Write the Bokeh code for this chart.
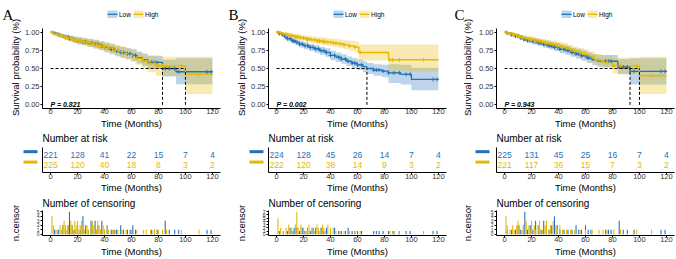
import numpy as np
from bokeh.plotting import figure
from bokeh.layouts import row, column
from bokeh.models import Range1d, FixedTicker, NumeralTickFormatter
from bokeh.core.properties import value
from bokeh.embed import file_html
from bokeh.resources import INLINE

# ---------------- data ----------------
MONTH_TICKS = [0, 20, 40, 60, 80, 100, 120]
SURV_TICKS = [0, 0.25, 0.5, 0.75, 1.0]
GROUP_NAMES = ["Low", "High"]
X_TITLE = "Time (Months)"
KM_Y_TITLE = "Survival probability (%)"
CENS_Y_TITLE = "n.censor"

# Panel A
a_low_t = [0, 2, 5, 8, 11, 14, 17, 20, 24, 28, 32, 36, 40, 44, 48, 52, 56, 60, 64, 68, 72, 83, 93, 120]
a_low_s = [1.0, .985, .965, .945, .93, .91, .895, .88, .865, .85, .835, .815, .79, .765, .74, .72, .705, .68, .65, .62, .585, .50, .455, .455]
a_low_lo = [1.0, .97, .94, .915, .895, .87, .85, .83, .815, .795, .775, .755, .725, .695, .67, .645, .63, .60, .57, .535, .495, .39, .285, .285]
a_low_hi = [1.0, 1.0, .99, .975, .965, .95, .94, .93, .915, .905, .895, .875, .855, .835, .81, .795, .78, .76, .73, .705, .675, .62, .64, .64]
a_high_t = [0, 2, 4, 7, 10, 13, 16, 19, 23, 27, 31, 35, 39, 43, 47, 51, 55, 59, 63, 68, 72, 78, 100, 120]
a_high_s = [1.0, .985, .97, .95, .93, .915, .90, .885, .87, .855, .835, .815, .80, .78, .755, .73, .705, .68, .64, .60, .57, .535, .42, .42]
a_high_lo = [1.0, .97, .95, .925, .90, .88, .86, .84, .82, .80, .775, .755, .735, .71, .685, .655, .625, .595, .55, .505, .45, .40, .15, .15]
a_high_hi = [1.0, 1.0, .99, .975, .96, .95, .94, .93, .92, .905, .89, .875, .865, .85, .83, .805, .785, .765, .73, .695, .68, .66, .66, .66]
a_low_cens_t = [3, 6, 9, 11, 13, 14, 16, 18, 20, 22, 24, 26, 28, 30, 31, 33, 35, 37, 38, 40, 42, 45, 47, 49, 52, 54, 57, 59, 61, 63, 75, 77, 79, 85, 88, 92, 95, 116, 119]
a_low_cens_n = [1, 1, 2, 1, 2, 5, 2, 1, 2, 1, 4, 2, 1, 3, 1, 3, 2, 1, 3, 1, 2, 1, 1, 1, 2, 1, 1, 1, 2, 1, 1, 1, 1, 3, 1, 1, 1, 1, 1]
a_high_cens_t = [1, 2, 4, 5, 7, 8, 9, 10, 11, 12, 13, 15, 16, 17, 18, 19, 20, 21, 22, 23, 24, 25, 27, 28, 30, 31, 32, 34, 35, 36, 37, 39, 40, 42, 43, 46, 48, 50, 53, 56, 60, 64, 69, 71, 74, 77, 80, 83, 86, 97, 110]
a_high_cens_n = [4, 2, 1, 1, 2, 1, 2, 3, 2, 1, 2, 3, 2, 1, 3, 2, 3, 1, 2, 3, 2, 1, 2, 1, 2, 3, 2, 1, 3, 2, 1, 2, 1, 2, 1, 1, 1, 1, 1, 1, 1, 1, 1, 1, 1, 1, 1, 1, 1, 1, 1]
a_low_risk = [221, 128, 41, 22, 15, 7, 4]
a_high_risk = [225, 120, 40, 18, 8, 3, 2]
a_pval = "P = 0.821"

# Panel B
b_low_t = [0, 2, 4, 6, 8, 11, 14, 17, 20, 24, 28, 32, 36, 40, 44, 48, 52, 56, 60, 64, 67, 72, 78, 83, 92, 100, 120]
b_low_s = [1.0, .98, .96, .93, .91, .88, .86, .835, .815, .79, .77, .745, .72, .68, .655, .63, .60, .575, .55, .525, .50, .48, .465, .44, .42, .35, .35]
b_low_lo = [1.0, .96, .935, .90, .875, .845, .82, .79, .765, .74, .715, .69, .66, .615, .59, .565, .535, .505, .48, .45, .425, .40, .38, .30, .28, .20, .20]
b_low_hi = [1.0, 1.0, .985, .96, .945, .92, .90, .88, .86, .84, .82, .80, .78, .745, .72, .695, .665, .645, .62, .60, .575, .56, .55, .56, .55, .51, .51]
b_high_t = [0, 2, 5, 8, 11, 14, 18, 22, 26, 30, 34, 38, 42, 46, 50, 54, 58, 61, 83, 120]
b_high_s = [1.0, .99, .975, .96, .95, .935, .92, .905, .895, .88, .87, .86, .85, .84, .825, .81, .795, .72, .62, .62]
b_high_lo = [1.0, .975, .955, .935, .92, .90, .885, .865, .85, .835, .82, .81, .795, .78, .765, .745, .725, .61, .46, .46]
b_high_hi = [1.0, 1.0, .995, .99, .98, .97, .96, .95, .94, .93, .925, .915, .91, .90, .89, .88, .87, .83, .83, .83]
b_low_cens_t = [2, 5, 8, 10, 12, 13, 15, 17, 19, 21, 23, 25, 27, 29, 31, 33, 35, 37, 40, 43, 46, 48, 51, 53, 56, 58, 60, 63, 72, 74, 76, 79, 83, 87, 91, 96, 99, 116, 119]
b_low_cens_n = [1, 1, 1, 2, 1, 2, 2, 1, 2, 1, 2, 1, 2, 2, 1, 2, 1, 2, 1, 2, 1, 1, 1, 2, 1, 1, 1, 1, 1, 1, 1, 1, 1, 1, 1, 1, 1, 1, 1]
b_high_cens_t = [1, 3, 5, 7, 9, 11, 12, 14, 15, 16, 18, 20, 22, 23, 24, 26, 28, 30, 31, 32, 34, 35, 36, 38, 40, 42, 44, 47, 50, 54, 58, 62, 84, 86, 91, 109]
b_high_cens_n = [5, 2, 1, 2, 3, 2, 1, 3, 7, 2, 3, 2, 1, 2, 3, 2, 1, 3, 2, 1, 3, 2, 1, 3, 2, 2, 1, 1, 1, 1, 1, 1, 1, 1, 1, 1]
b_low_risk = [224, 128, 45, 26, 14, 7, 4]
b_high_risk = [222, 120, 38, 14, 9, 3, 2]
b_pval = "P = 0.002"

# Panel C
c_low_t = [0, 2, 5, 8, 11, 14, 17, 21, 25, 29, 33, 37, 41, 45, 49, 53, 57, 61, 65, 69, 84, 93, 120]
c_low_s = [1.0, .985, .965, .945, .925, .905, .885, .87, .85, .83, .81, .79, .765, .745, .72, .70, .675, .645, .62, .60, .52, .46, .46]
c_low_lo = [1.0, .97, .945, .92, .895, .87, .85, .83, .81, .785, .76, .74, .71, .69, .66, .635, .605, .575, .545, .52, .42, .28, .28]
c_low_hi = [1.0, 1.0, .99, .975, .96, .945, .93, .915, .90, .885, .865, .85, .83, .81, .785, .77, .75, .725, .70, .685, .63, .64, .64]
c_high_t = [0, 2, 4, 7, 10, 13, 16, 19, 23, 27, 31, 35, 39, 43, 47, 51, 55, 59, 63, 67, 72, 80, 100, 120]
c_high_s = [1.0, .99, .975, .96, .94, .925, .91, .895, .88, .86, .845, .83, .81, .79, .765, .74, .715, .69, .655, .62, .59, .535, .40, .40]
c_high_lo = [1.0, .98, .96, .94, .915, .895, .88, .86, .845, .82, .80, .785, .76, .735, .71, .68, .65, .62, .58, .54, .50, .43, .15, .15]
c_high_hi = [1.0, 1.0, .99, .98, .965, .955, .945, .935, .92, .905, .89, .88, .865, .85, .825, .80, .78, .76, .73, .70, .68, .65, .66, .66]
c_low_cens_t = [2, 5, 8, 10, 12, 14, 15, 17, 19, 21, 23, 25, 27, 29, 31, 33, 35, 37, 39, 41, 44, 47, 50, 53, 55, 57, 60, 62, 64, 75, 77, 79, 85, 88, 91, 96, 116, 119]
c_low_cens_n = [1, 1, 1, 2, 1, 2, 5, 1, 2, 1, 3, 2, 1, 3, 2, 1, 2, 4, 2, 1, 1, 1, 1, 2, 1, 1, 2, 1, 1, 1, 1, 1, 3, 1, 1, 1, 1, 1]
c_high_cens_t = [1, 2, 4, 6, 7, 9, 10, 11, 13, 14, 16, 18, 19, 20, 22, 23, 25, 26, 28, 30, 31, 33, 34, 36, 38, 39, 41, 43, 46, 49, 52, 56, 60, 65, 70, 73, 76, 81, 86, 98, 109]
c_high_cens_n = [4, 2, 1, 2, 1, 2, 3, 2, 1, 2, 3, 2, 1, 3, 2, 1, 2, 3, 1, 2, 3, 1, 2, 3, 2, 1, 2, 1, 1, 1, 1, 1, 1, 1, 1, 1, 1, 1, 1, 1, 1]
c_low_risk = [225, 131, 45, 25, 16, 7, 4]
c_high_risk = [221, 117, 36, 15, 7, 3, 2]
c_pval = "P = 0.943"

# ---------------- style ----------------
BLUE = "#2372B9"
YELLOW = "#E7B800"
SANS = "Liberation Sans"
SERIF = "Liberation Serif"
XR = (-6, 126)


def style_axes(p):
    for ax in p.axis:
        ax.axis_line_color = "black"
        ax.axis_line_width = 1
        ax.major_tick_line_color = "black"
        ax.major_tick_in = 0
        ax.major_tick_out = 2
        ax.minor_tick_line_color = None
        ax.major_label_text_font = SANS
        ax.major_label_text_font_size = "7.5px"
        ax.major_label_text_color = "#333333"
        ax.major_label_standoff = -2


def base_fig(W, H, L, R, T, B, yr):
    p = figure(width=W, height=H, x_range=Range1d(*XR), y_range=Range1d(*yr),
               output_backend="svg", toolbar_location=None,
               min_border_left=L, min_border_right=R, min_border_top=T, min_border_bottom=B)
    p.grid.visible = False
    p.outline_line_color = None
    style_axes(p)
    p.xaxis.ticker = FixedTicker(ticks=MONTH_TICKS)
    return p


def converters(W, L, R, T, FH, yr):
    FW = W - L - R
    X = lambda px: XR[0] + (px - L) * (XR[1] - XR[0]) / FW
    Y = lambda py: yr[1] - (py - T) * (yr[1] - yr[0]) / FH
    return X, Y


def add_text(p, x, y, s, size, font=SANS, style="normal", align="left",
             baseline="middle", color="black", angle=0.0):
    p.text(x=[x], y=[y], text=[s], text_font=value(font), text_font_size=value(size),
           text_font_style=value(style), text_align=value(align),
           text_baseline=value(baseline), text_color=color, angle=angle, level="overlay")


def km_fig(W, L, R, letter, groups, pval):
    T, FH, B = 28, 80, 25
    yr = (-0.05, 1.05)
    p = base_fig(W, T + FH + B, L, R, T, B, yr)
    X, Y = converters(W, L, R, T, FH, yr)
    p.yaxis.ticker = FixedTicker(ticks=SURV_TICKS)
    p.yaxis.formatter = NumeralTickFormatter(format="0.00")
    p.yaxis.major_label_standoff = 1

    for g in groups:
        p.varea_step(x=g["t"], y1=g["lo"], y2=g["hi"], step_mode="after",
                     fill_color=g["color"], fill_alpha=0.3)
    for g in groups:
        p.step(x=g["t"], y=g["s"], mode="after", line_color=g["color"], line_width=1.3)
    for g in groups:
        t = np.array(g["t"], dtype=float)
        s = np.array(g["s"], dtype=float)
        ct = np.array(g["ct"], dtype=float)
        cy = s[np.searchsorted(t, ct, side="right") - 1]
        p.scatter(x=ct, y=cy, marker="cross", size=4, line_color=g["color"], line_width=1)

    meds = []
    for g in groups:
        below = [tt for tt, ss in zip(g["t"], g["s"]) if ss <= 0.5]
        if below:
            meds.append(below[0])
    if meds:
        p.segment(x0=[0], y0=[0.5], x1=[max(meds)], y1=[0.5], line_color="black",
                  line_width=1, line_dash="3 2")
        p.segment(x0=meds, y0=[0] * len(meds), x1=meds, y1=[0.5] * len(meds),
                  line_color="black", line_width=1, line_dash="3 2")

    add_text(p, 0, 0, pval, "7px", style="bold italic")
    add_text(p, X(2), Y(14), letter, "15px", font=SERIF, baseline="alphabetic")
    fw = W - L - R
    cx0 = L + fw / 2
    add_text(p, X(cx0), Y(T + FH + 15.3), X_TITLE, "9.5px", align="center")
    add_text(p, X(15), Y(T + FH / 2 - 1), KM_Y_TITLE, "9.5px", align="center",
             angle=np.pi / 2)

    key_off = [-19, 7]
    txt_off = [-12.5, 13.5]
    for g, ko, to in zip(groups, key_off, txt_off):
        kc = cx0 + ko
        p.quad(left=[X(kc - 5)], right=[X(kc + 5)], bottom=[Y(17.5)], top=[Y(10)],
               fill_color=g["color"], fill_alpha=0.3, line_color=None, level="overlay")
        p.segment(x0=[X(kc - 5)], y0=[Y(13.8)], x1=[X(kc + 5)], y1=[Y(13.8)],
                  line_color=g["color"], line_width=1.3, level="overlay")
        p.scatter(x=[X(kc)], y=[Y(13.8)], marker="cross", size=4, line_color=g["color"],
                  line_width=1, level="overlay")
        add_text(p, X(cx0 + to), Y(14), g["name"], "6.5px")
    return p


def risk_fig(W, L, R, groups):
    T, FH, B = 14, 25, 24
    yr = (0.3, 2.7)
    p = base_fig(W, T + FH + B, L, R, T, B, yr)
    X, Y = converters(W, L, R, T, FH, yr)
    p.yaxis.ticker = FixedTicker(ticks=[])
    p.xaxis.major_label_standoff = -1
    rows = [2, 1]
    for g, yv in zip(groups, rows):
        p.text(x=MONTH_TICKS, y=[yv] * len(MONTH_TICKS), text=[str(v) for v in g["risk"]],
               text_color=g["color"], text_align="center", text_baseline="middle",
               text_font=value(SANS), text_font_size=value("8.5px"))
        p.segment(x0=[X(23)], x1=[X(37)], y0=[yv + 0.3], y1=[yv + 0.3],
                  line_color=g["color"], line_width=3, level="overlay")
    add_text(p, XR[0], Y(5.3), "Number at risk", "10px")
    fw = W - L - R
    add_text(p, X(L + fw / 2), Y(T + FH + 15), X_TITLE, "9.5px", align="center")
    return p


def cens_fig(W, L, R, groups, ymax):
    T, FH, B = 14, 25, 24
    yr = (-0.05 * ymax, 1.05 * ymax)
    p = base_fig(W, T + FH + B, L, R, T, B, yr)
    X, Y = converters(W, L, R, T, FH, yr)
    p.yaxis.ticker = FixedTicker(ticks=list(range(0, ymax + 1)))
    p.yaxis.major_label_text_font_size = "5px"
    p.yaxis.major_label_standoff = 1
    p.xaxis.major_label_standoff = -1
    for g in groups:
        p.vbar(x=g["ct"], top=g["cn"], bottom=0, width=0.8, fill_color=g["color"],
               line_color=None)
    add_text(p, XR[0], Y(7.3), "Number of censoring", "10px")
    fw = W - L - R
    add_text(p, X(L + fw / 2), Y(T + FH + 16.3), X_TITLE, "9.5px", align="center")
    add_text(p, X(15), Y(T + FH / 2), CENS_Y_TITLE, "9.5px", align="center",
             angle=np.pi / 2)
    return p


def make_groups(low, high):
    out = []
    for name, color, d in zip(GROUP_NAMES, [BLUE, YELLOW], [low, high]):
        t, s, lo, hi, ct, cn, risk = d
        out.append(dict(name=name, color=color, t=t, s=s, lo=lo, hi=hi, ct=ct, cn=cn, risk=risk))
    return out


panels = [
    ("A", 226, 42, 6, make_groups(
        (a_low_t, a_low_s, a_low_lo, a_low_hi, a_low_cens_t, a_low_cens_n, a_low_risk),
        (a_high_t, a_high_s, a_high_lo, a_high_hi, a_high_cens_t, a_high_cens_n, a_high_risk)),
     a_pval, 5),
    ("B", 226, 42, 6, make_groups(
        (b_low_t, b_low_s, b_low_lo, b_low_hi, b_low_cens_t, b_low_cens_n, b_low_risk),
        (b_high_t, b_high_s, b_high_lo, b_high_hi, b_high_cens_t, b_high_cens_n, b_high_risk)),
     b_pval, 7),
    ("C", 224, 44, 2, make_groups(
        (c_low_t, c_low_s, c_low_lo, c_low_hi, c_low_cens_t, c_low_cens_n, c_low_risk),
        (c_high_t, c_high_s, c_high_lo, c_high_hi, c_high_cens_t, c_high_cens_n, c_high_risk)),
     c_pval, 5),
]

cols = []
for letter, W, L, R, groups, pval, ymax in panels:
    cols.append(column(km_fig(W, L, R, letter, groups, pval),
                       risk_fig(W, L, R, groups),
                       cens_fig(W, L, R, groups, ymax), spacing=0))

layout = row(*cols, spacing=0)
open("out.html", "w").write(file_html(layout, INLINE))
